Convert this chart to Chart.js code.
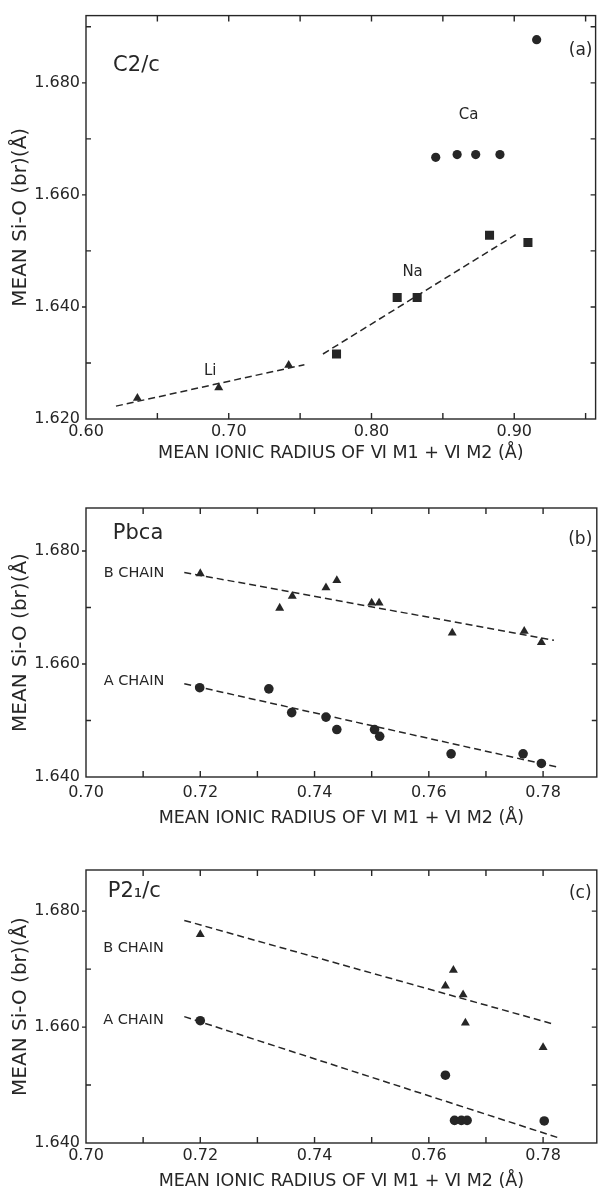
<!DOCTYPE html>
<html>
<head>
<meta charset="utf-8">
<script src="https://cdn.jsdelivr.net/npm/chart.js@4.4.1/dist/chart.umd.min.js"></script>
<style>
  body { margin: 0; background: #fff; }
  #wrap { position: relative; width: 602px; height: 1192px; }
  canvas { position: absolute; left: 0; }
</style>
</head>
<body>
<div id="wrap">
  <canvas id="chartA" width="602" height="470" style="top:0"></canvas>
  <canvas id="chartB" width="602" height="360" style="top:470px"></canvas>
  <canvas id="chartC" width="602" height="362" style="top:830px"></canvas>
</div>
<script>
const INK = '#262626';
const FONT = "'DejaVu Sans', sans-serif";

// ---- (a) C2/c ----
const liRadius = [0.636, 0.693, 0.742];
const liSiO    = [1.6237, 1.6256, 1.6296];
const naRadius = [0.7755, 0.818, 0.832, 0.8827, 0.9096];
const naSiO    = [1.6316, 1.6417, 1.6417, 1.6528, 1.6515];
const caRadius = [0.845, 0.860, 0.873, 0.890, 0.9157];
const caSiO    = [1.6667, 1.6672, 1.6672, 1.6672, 1.6877];
const liFitX = [0.621, 0.753], liFitY = [1.6223, 1.6297];
const naFitX = [0.766, 0.901], naFitY = [1.6316, 1.6529];
const aXTicks = [0.60, 0.65, 0.70, 0.75, 0.80, 0.85, 0.90, 0.95];
const aXLabels = [0.60, 0.70, 0.80, 0.90];
const aYTicks = [1.62, 1.63, 1.64, 1.65, 1.66, 1.67, 1.68, 1.69];
const aYLabels = [1.62, 1.64, 1.66, 1.68];

// ---- (b) Pbca ----
const pbcaBX = [0.720, 0.7339, 0.7361, 0.742, 0.7439, 0.750, 0.7513, 0.7641, 0.7767, 0.7797];
const pbcaBY = [1.676, 1.6699, 1.672, 1.6735, 1.6748, 1.6708, 1.6708, 1.6655, 1.6658, 1.6638];
const pbcaAX = [0.7199, 0.732, 0.736, 0.742, 0.7439, 0.7505, 0.7514, 0.7639, 0.7765, 0.7797];
const pbcaAY = [1.6558, 1.6556, 1.6514, 1.6506, 1.6484, 1.6484, 1.6472, 1.6441, 1.6441, 1.6424];
const pbcaBFitX = [0.7172, 0.7819], pbcaBFitY = [1.6762, 1.6642];
const pbcaAFitX = [0.7172, 0.7827], pbcaAFitY = [1.6565, 1.6417];

// ---- (c) P2_1/c ----
const p21BX = [0.720, 0.7629, 0.7643, 0.766, 0.7664, 0.780];
const p21BY = [1.676, 1.6671, 1.6698, 1.6656, 1.6607, 1.6565];
const p21AX = [0.720, 0.7629, 0.7645, 0.7657, 0.7667, 0.7802];
const p21AY = [1.6611, 1.6517, 1.6439, 1.6439, 1.6439, 1.6438];
const p21BFitX = [0.7172, 0.7815], p21BFitY = [1.6784, 1.6606];
const p21AFitX = [0.7172, 0.7827], p21AFitY = [1.6618, 1.6409];

const bcXTicks = [0.70, 0.71, 0.72, 0.73, 0.74, 0.75, 0.76, 0.77, 0.78];
const bcXLabels = [0.70, 0.72, 0.74, 0.76, 0.78];
const bcYTicks = [1.64, 1.65, 1.66, 1.67, 1.68];
const bcYLabels = [1.64, 1.66, 1.68];

const yTitle = 'MEAN Si-O (br)(Å)';
const xTitle = 'MEAN IONIC RADIUS OF Ⅵ M1 + Ⅵ M2 (Å)';

function pts(xs, ys) { return xs.map((x, i) => ({ x: x, y: ys[i] })); }
function has(list, v) { return list.some(l => Math.abs(l - v) < 1e-6); }

function marks(xs, ys, style, r) {
  return { data: pts(xs, ys), pointStyle: style, pointRadius: r, backgroundColor: INK,
           borderColor: INK, borderWidth: 0, showLine: false };
}
function fit(xs, ys) {
  return { data: pts(xs, ys), showLine: true, borderColor: INK, borderWidth: 1.5,
           borderDash: [7, 4], pointRadius: 0, fill: false };
}

// frame with inward ticks on all four sides
const frameTicks = {
  id: 'frameTicks',
  afterDraw(chart) {
    const { ctx, chartArea: a, scales: { x, y } } = chart;
    ctx.save();
    ctx.strokeStyle = INK;
    ctx.lineWidth = 1.4;
    ctx.strokeRect(a.left, a.top, a.right - a.left, a.bottom - a.top);
    ctx.beginPath();
    x.ticks.forEach(t => {
      const px = x.getPixelForValue(t.value);
      if (px <= a.left + 1 || px >= a.right - 1) return;
      ctx.moveTo(px, a.bottom); ctx.lineTo(px, a.bottom - 6);
      ctx.moveTo(px, a.top); ctx.lineTo(px, a.top + 6);
    });
    y.ticks.forEach(t => {
      const py = y.getPixelForValue(t.value);
      if (py <= a.top + 1 || py >= a.bottom - 1) return;
      if (t.label) { ctx.moveTo(a.left - 4, py); ctx.lineTo(a.left, py); }
      else { ctx.moveTo(a.left, py); ctx.lineTo(a.left + 5, py); }
      ctx.moveTo(a.right, py); ctx.lineTo(a.right - 5, py);
    });
    ctx.stroke();
    ctx.restore();
  }
};

function notesPlugin(notes) {
  return {
    id: 'notes',
    afterDraw(chart) {
      const { ctx, scales: { x, y } } = chart;
      ctx.save();
      ctx.fillStyle = INK;
      ctx.textBaseline = 'middle';
      notes.forEach(n => {
        ctx.font = n.size + 'px ' + FONT;
        ctx.textAlign = n.align || 'left';
        ctx.fillText(n.text, x.getPixelForValue(n.x), y.getPixelForValue(n.y));
      });
      ctx.restore();
    }
  };
}

function makePanel(id, p) {
  new Chart(document.getElementById(id), {
    type: 'scatter',
    data: { datasets: p.datasets },
    options: {
      responsive: false,
      animation: false,
      layout: { padding: { top: p.padTop, right: 2, left: 0, bottom: 0 } },
      plugins: { legend: { display: false }, tooltip: { enabled: false } },
      scales: {
        x: {
          type: 'linear', min: p.xMin, max: p.xMax,
          afterBuildTicks: s => { s.ticks = p.xTicks.map(v => ({ value: v })); },
          afterFit: s => { s.height = p.xHeight; },
          grid: { display: false, drawTicks: false }, border: { display: false },
          ticks: { autoSkip: false, maxRotation: 0, padding: p.xTickPad, color: INK,
                   font: { family: FONT, size: 16 },
                   callback: v => has(p.xLabels, v) ? v.toFixed(2) : '' },
          title: { display: true, text: xTitle, color: INK, font: { family: FONT, size: 17.5 },
                   padding: { top: 0, bottom: p.xTitlePad } }
        },
        y: {
          type: 'linear', min: p.yMin, max: p.yMax,
          afterBuildTicks: s => { s.ticks = p.yTicks.map(v => ({ value: v })); },
          afterFit: s => { s.width = 86; },
          grid: { display: false, drawTicks: false }, border: { display: false },
          ticks: { autoSkip: false, padding: 6, color: INK,
                   font: { family: FONT, size: 16 },
                   callback: v => has(p.yLabels, v) ? v.toFixed(3) : '' },
          title: { display: true, text: yTitle, color: INK, font: { family: FONT, size: 20 },
                   padding: { top: 9, bottom: 0 } }
        }
      }
    },
    plugins: [frameTicks, notesPlugin(p.notes)]
  });
}

makePanel('chartA', {
  padTop: 7, xHeight: 51, xTitlePad: 6, xTickPad: 3,
  xMin: 0.60, xMax: 0.957, yMin: 1.620, yMax: 1.692,
  xTicks: aXTicks, xLabels: aXLabels, yTicks: aYTicks, yLabels: aYLabels,
  datasets: [
    fit(liFitX, liFitY), fit(naFitX, naFitY),
    marks(liRadius, liSiO, 'triangle', 5.2),
    marks(naRadius, naSiO, 'rect', 6.4),
    marks(caRadius, caSiO, 'circle', 4.6)
  ],
  notes: [
    { x: 0.619, y: 1.6831, text: 'C2/c', size: 21 },
    { x: 0.9465, y: 1.6857, text: '(a)', size: 17, align: 'center' },
    { x: 0.868, y: 1.6743, text: 'Ca', size: 15, align: 'center' },
    { x: 0.8288, y: 1.6462, text: 'Na', size: 15, align: 'center' },
    { x: 0.687, y: 1.6285, text: 'Li', size: 15, align: 'center' }
  ]
});

makePanel('chartB', {
  padTop: 38, xHeight: 53, xTitlePad: 1, xTickPad: 6,
  xMin: 0.70, xMax: 0.7894, yMin: 1.640, yMax: 1.6876,
  xTicks: bcXTicks, xLabels: bcXLabels, yTicks: bcYTicks, yLabels: bcYLabels,
  datasets: [
    fit(pbcaBFitX, pbcaBFitY), fit(pbcaAFitX, pbcaAFitY),
    marks(pbcaBX, pbcaBY, 'triangle', 5.2),
    marks(pbcaAX, pbcaAY, 'circle', 4.8)
  ],
  notes: [
    { x: 0.7047, y: 1.6830, text: 'Pbca', size: 21 },
    { x: 0.7865, y: 1.6821, text: '(b)', size: 17, align: 'center' },
    { x: 0.7031, y: 1.6761, text: 'B CHAIN', size: 14.5 },
    { x: 0.7031, y: 1.6570, text: 'A CHAIN', size: 14.5 }
  ]
});

makePanel('chartC', {
  padTop: 40, xHeight: 49, xTitlePad: 0, xTickPad: 3,
  xMin: 0.70, xMax: 0.7894, yMin: 1.640, yMax: 1.6871,
  xTicks: bcXTicks, xLabels: bcXLabels, yTicks: bcYTicks, yLabels: bcYLabels,
  datasets: [
    fit(p21BFitX, p21BFitY), fit(p21AFitX, p21AFitY),
    marks(p21BX, p21BY, 'triangle', 5.2),
    marks(p21AX, p21AY, 'circle', 4.8)
  ],
  notes: [
    { x: 0.7038, y: 1.6833, text: 'P2₁/c', size: 21 },
    { x: 0.7865, y: 1.6831, text: '(c)', size: 17, align: 'center' },
    { x: 0.7030, y: 1.6736, text: 'B CHAIN', size: 14.5 },
    { x: 0.7030, y: 1.6611, text: 'A CHAIN', size: 14.5 }
  ]
});
</script>
</body>
</html>
